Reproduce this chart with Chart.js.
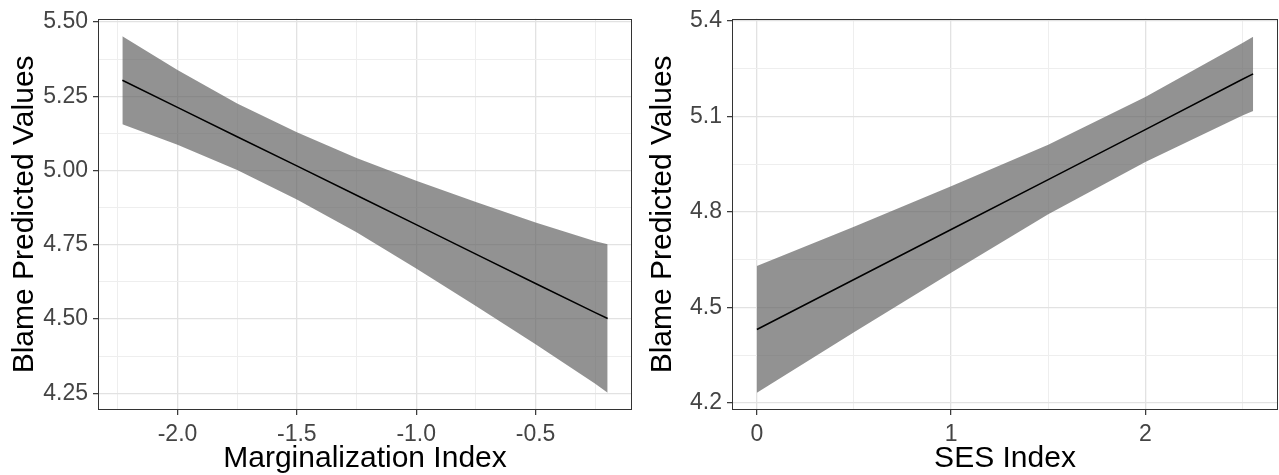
<!DOCTYPE html>
<html><head><meta charset="utf-8">
<script src="https://cdn.jsdelivr.net/npm/chart.js@4.4.1/dist/chart.umd.min.js"></script>
<style>
html,body{margin:0;padding:0;background:#fff;width:1279px;height:475px;overflow:hidden}
#left{position:absolute;left:0;top:0}
#right{position:absolute;left:640px;top:0}
</style></head><body>
<canvas id="left" width="640" height="475"></canvas>
<canvas id="right" width="639" height="475"></canvas>
<script>
// ---- Left panel: Marginalization Index ----
const margX     = [-2.231, -2.0, -1.75, -1.5, -1.25, -1.0, -0.75, -0.5, -0.25, -0.198];
const margFit   = [5.304, 5.213, 5.114, 5.016, 4.917, 4.818, 4.719, 4.620, 4.522, 4.502];
const margUpper = [5.452, 5.339, 5.226, 5.129, 5.042, 4.966, 4.894, 4.825, 4.762, 4.752];
const margLower = [5.156, 5.087, 5.002, 4.903, 4.792, 4.670, 4.544, 4.415, 4.282, 4.252];
const margXTicks = [-2.0, -1.5, -1.0, -0.5];
const margYTicks = [4.25, 4.50, 4.75, 5.00, 5.25, 5.50];

// ---- Right panel: SES Index ----
const sesX     = [0, 0.5, 1.0, 1.5, 2.0, 2.5, 2.555];
const sesFit   = [4.431, 4.588, 4.745, 4.902, 5.059, 5.217, 5.234];
const sesUpper = [4.630, 4.754, 4.881, 5.011, 5.161, 5.331, 5.351];
const sesLower = [4.232, 4.422, 4.609, 4.793, 4.957, 5.103, 5.117];
const sesXTicks = [0, 1, 2];
const sesYTicks = [4.2, 4.5, 4.8, 5.1, 5.4];

const yTitle = 'Blame Predicted Values';

function withMinor(majors, min, max) {
  const out = majors.map(v => ({value: v, isMajor: true}));
  const step = majors[1] - majors[0];
  const half = step / 2;
  const cands = [];
  for (let i = 0; i < majors.length - 1; i++) cands.push(majors[i] + half);
  cands.push(majors[0] - half, majors[majors.length - 1] + half);
  cands.forEach(v => { if (v > min && v < max) out.push({value: v, isMajor: false}); });
  out.sort((a, b) => a.value - b.value);
  return out;
}

const borderPlugin = {
  id: 'panelBorder',
  afterDraw(chart) {
    const a = chart.chartArea, ctx = chart.ctx;
    ctx.save();
    ctx.strokeStyle = '#333333';
    ctx.lineWidth = 1;
    ctx.strokeRect(Math.round(a.left) + 0.5, Math.round(a.top) + 0.5,
                   Math.round(a.right - a.left) - 1, Math.round(a.bottom - a.top) - 1);
    ctx.restore();
  }
};

function pts(xs, ys) { return xs.map((x, i) => ({x: x, y: ys[i]})); }

function makeChart(id, cfg) {
  const xTicksAll = withMinor(cfg.xTicks, cfg.xMin, cfg.xMax);
  const yTicksAll = withMinor(cfg.yTicks, cfg.yMin, cfg.yMax);
  const gridCommon = {
    color: c => (c.tick && c.tick.isMajor) ? '#e2e2e2' : '#eeeeee',
    lineWidth: c => (c.tick && c.tick.isMajor) ? 1.3 : 1,
    tickColor: c => (c.tick && c.tick.isMajor) ? '#333333' : 'rgba(0,0,0,0)',
    tickLength: 5,
    tickWidth: 1.2,
    drawTicks: true
  };
  return new Chart(document.getElementById(id), {
    type: 'line',
    data: {
      datasets: [
        {label: 'fit', data: pts(cfg.x, cfg.fit), borderColor: '#000000', borderWidth: 1.5,
         pointRadius: 0, fill: false, tension: 0},
        {label: 'upper', data: pts(cfg.x, cfg.upper), borderWidth: 0, borderColor: 'rgba(0,0,0,0)',
         backgroundColor: 'rgba(100,100,100,0.7)', pointRadius: 0, fill: '+1', tension: 0},
        {label: 'lower', data: pts(cfg.x, cfg.lower), borderWidth: 0, borderColor: 'rgba(0,0,0,0)',
         pointRadius: 0, fill: false, tension: 0}
      ]
    },
    options: {
      responsive: false,
      animation: false,
      devicePixelRatio: 1,
      layout: {padding: {left: 0, top: 17, right: cfg.padRight, bottom: 0}},
      plugins: {legend: {display: false}, tooltip: {enabled: false}},
      scales: {
        x: {
          type: 'linear', min: cfg.xMin, max: cfg.xMax,
          afterBuildTicks: s => { s.ticks = xTicksAll.map(t => ({...t})); },
          afterFit: s => { s.height = 65; },
          border: {display: false},
          grid: gridCommon,
          ticks: {autoSkip: false, maxRotation: 0, padding: 6, color: '#444444',
                  font: {family: 'Liberation Sans', size: 23},
                  callback: (v, i, ticks) => ticks[i].isMajor ? v.toFixed(cfg.xDigits) : ''},
          title: {display: true, text: cfg.xTitle, color: '#000000',
                  font: {family: 'Liberation Sans', size: 30, lineHeight: 1.08}, padding: {top: 0, bottom: 0}}
        },
        y: {
          type: 'linear', min: cfg.yMin, max: cfg.yMax,
          afterBuildTicks: s => { s.ticks = yTicksAll.map(t => ({...t})); },
          afterFit: s => { s.width = cfg.yWidth; },
          border: {display: false},
          grid: gridCommon,
          ticks: {autoSkip: false, padding: 5, color: '#444444',
                  font: {family: 'Liberation Sans', size: 23},
                  callback: (v, i, ticks) => ticks[i].isMajor ? v.toFixed(cfg.yDigits) : ''},
          title: {display: true, text: yTitle, color: '#000000',
                  font: {family: 'Liberation Sans', size: 30}, padding: {top: cfg.yTitlePad, bottom: 0}}
        }
      }
    },
    plugins: [borderPlugin]
  });
}

makeChart('left', {
  x: margX, fit: margFit, upper: margUpper, lower: margLower,
  xTicks: margXTicks, yTicks: margYTicks, xDigits: 1, yDigits: 2,
  xMin: -2.333, xMax: -0.096, yMin: 4.194, yMax: 5.511,
  xTitle: 'Marginalization Index', yWidth: 98, padRight: 8, yTitlePad: 7
});
makeChart('right', {
  x: sesX, fit: sesFit, upper: sesUpper, lower: sesLower,
  xTicks: sesXTicks, yTicks: sesYTicks, xDigits: 0, yDigits: 1,
  xMin: -0.128, xMax: 2.683, yMin: 4.178, yMax: 5.407,
  xTitle: 'SES Index', yWidth: 92, padRight: 1, yTitlePad: 5
});
</script>
</body></html>
